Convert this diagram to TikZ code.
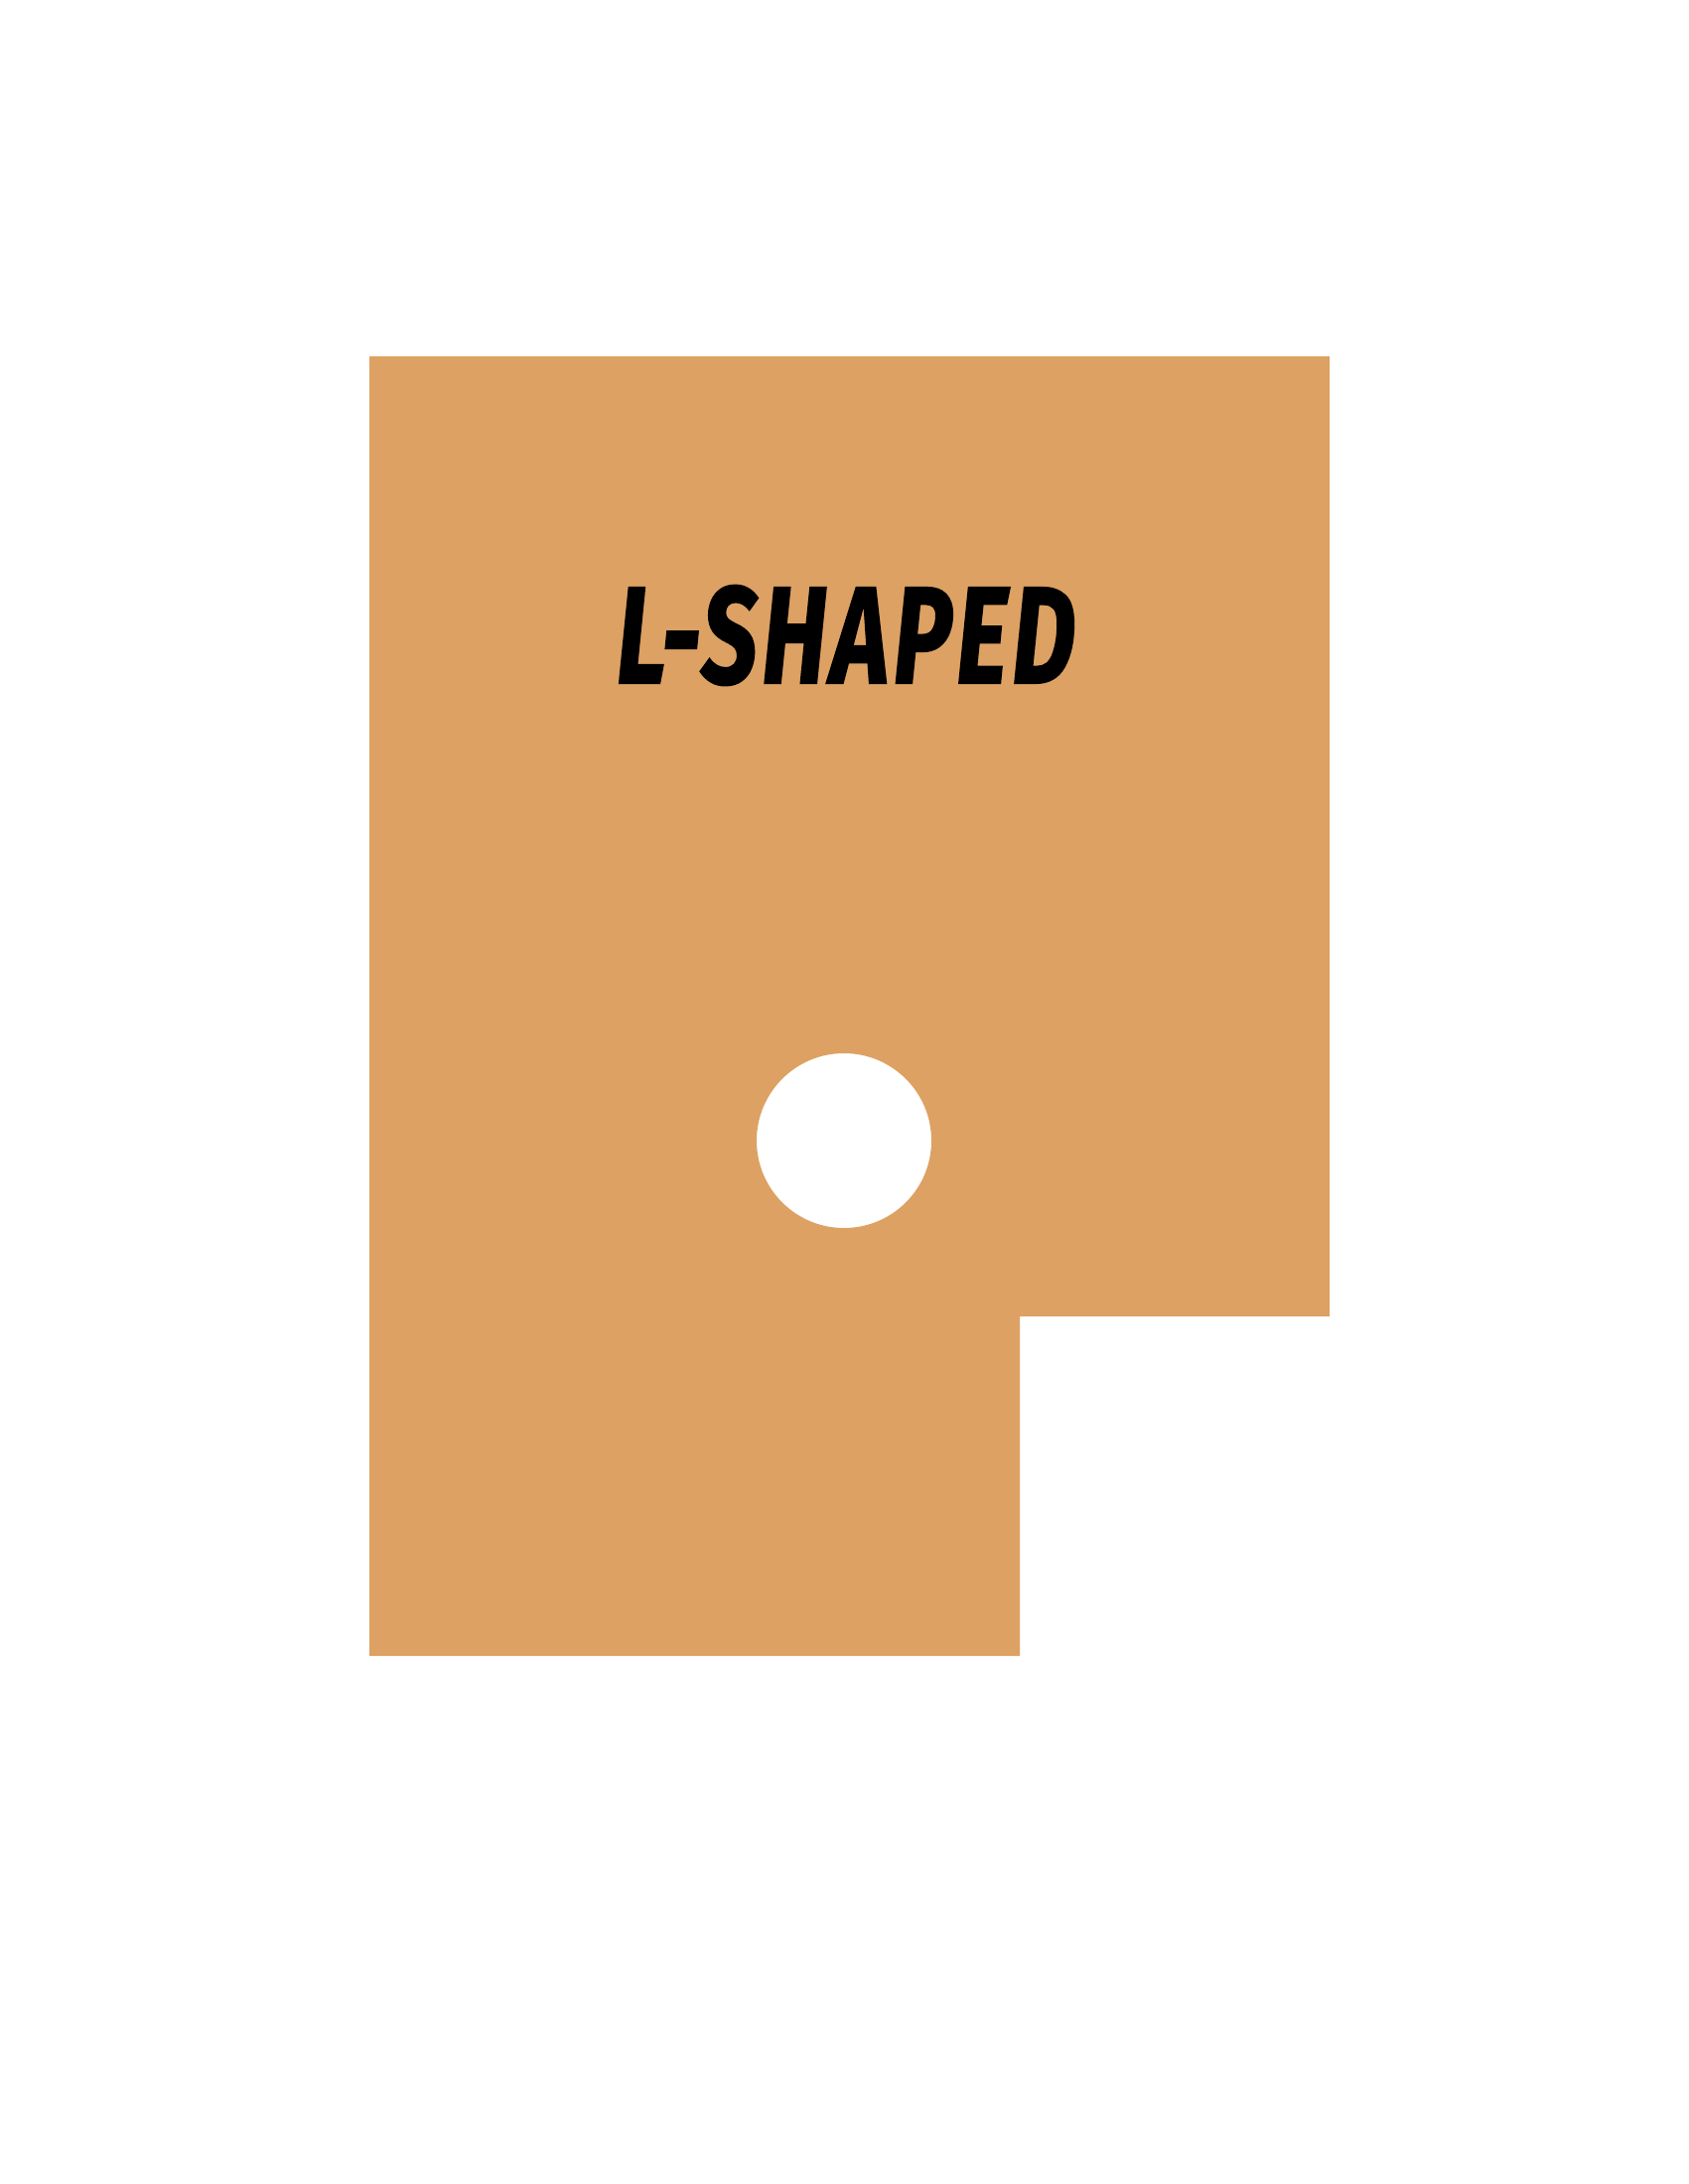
\documentclass[tikz,border=0pt]{standalone}
\usepackage{fontspec}
\usepackage{tikz}
\usetikzlibrary{positioning}
\newfontfamily\platefont{Fira Sans}[BoldItalicFeatures={FakeBold=1.6,LetterSpace=5}]
\definecolor{plateorange}{RGB}{221,161,99}
\tikzstyle{plate} = [fill=plateorange, draw=none, even odd rule]
\tikzstyle{titel} = [inner sep=0pt, anchor=base, xscale=0.715, transform shape,
  font=\platefont\bfseries\itshape\fontsize{50}{50}\selectfont]
\begin{document}
\begin{tikzpicture}[x=0.0127cm,y=-0.0127cm]

  % Page frame
  \useasboundingbox (0,0) rectangle (1700,2200);

  % Plate with hole
  \path[plate] (372,359) -- (1339,359) -- (1339,1326) -- (1027,1326)
    -- (1027,1668) -- (372,1668) -- cycle
    (850,1149) circle [radius=88];

  % Label
  \node[titel] (name) at (852,688) {L-SHAPED};

\end{tikzpicture}
\end{document}
